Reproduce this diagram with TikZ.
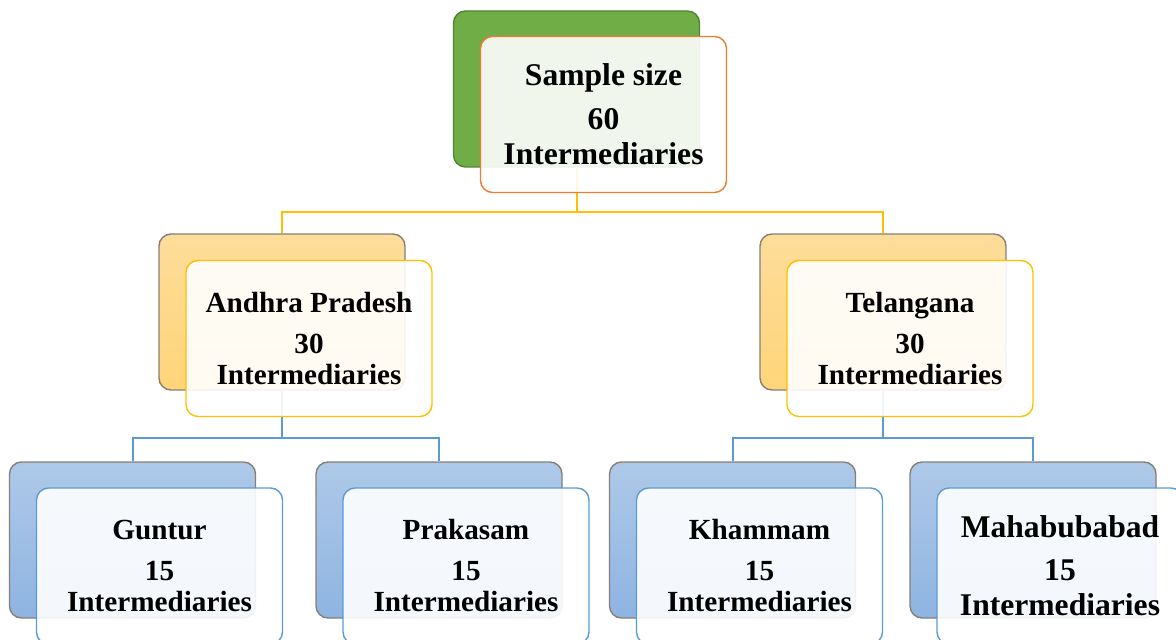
\documentclass[tikz,border=0pt]{standalone}
\usepackage{fontspec}
\setmainfont{Liberation Serif}
\usetikzlibrary{calc}

\definecolor{leafgreen}{HTML}{70AD47}
\definecolor{leafdark}{HTML}{548235}
\definecolor{rimorange}{HTML}{ED7D31}
\definecolor{goldline}{HTML}{FFC000}
\definecolor{goldtop}{HTML}{FDDD9A}
\definecolor{goldbot}{HTML}{FFD47A}
\definecolor{skyline}{HTML}{5B9BD5}
\definecolor{skytop}{HTML}{AEC9E8}
\definecolor{skybot}{HTML}{8EB4E2}
\definecolor{rimgray}{HTML}{857F77}

\begin{document}
\begin{tikzpicture}[x=0.5pt,y=-0.5pt]
        \tikzset{backbox/.style={rounded corners=6pt, minimum width=123pt, minimum height=78pt, line width=0.7pt, draw=rimgray},
                 frontbox/.style={rounded corners=6pt, minimum width=123pt, minimum height=78pt, line width=0.7pt, inner sep=0pt,
                     fill=white, fill opacity=0.9, text opacity=1, align=center,
                     font=\bfseries\fontsize{14.6}{15.5}\selectfont},
                 bigtext/.style={font=\bfseries\fontsize{15.8}{17.5}\selectfont},
                 yline/.style={draw=goldline, line width=1pt},
                 bline/.style={draw=skyline, line width=1pt}}
        \useasboundingbox (0,0) rectangle (1176,640);
        
        % back boxes
        \node[backbox, fill=leafgreen, draw=leafdark] (sampleback) at (576.5,89) {};
        \node[backbox, top color=goldtop, bottom color=goldbot] (apback) at (282,312) {};
        \node[backbox, top color=goldtop, bottom color=goldbot] (tgback) at (883,312) {};
        \node[backbox, top color=skytop, bottom color=skybot] (guntback) at (132.5,540) {};
        \node[backbox, top color=skytop, bottom color=skybot] (prakback) at (439,540) {};
        \node[backbox, top color=skytop, bottom color=skybot] (khamback) at (732.5,540) {};
        \node[backbox, top color=skytop, bottom color=skybot] (mahaback) at (1033,540) {};
        
        % connectors
        \draw[yline] (sampleback.south) -- ++(0,44) coordinate (ysplit);
        \draw[yline] (ysplit) -| (apback.north);
        \draw[yline] (ysplit) -| (tgback.north);
        \draw[bline] (apback.south) -- ++(0,47) coordinate (apsplit);
        \draw[bline] (apsplit) -| (guntback.north);
        \draw[bline] (apsplit) -| (prakback.north);
        \draw[bline] (tgback.south) -- ++(0,47) coordinate (tgsplit);
        \draw[bline] (tgsplit) -| (khamback.north);
        \draw[bline] (tgsplit) -| (mahaback.north);
        
        % front boxes
        \node[frontbox, bigtext, draw=rimorange] (sample) at (603.5,114.5) {Sample size\\[4.5pt]60\\Intermediaries};
        \node[frontbox, draw=goldline] (ap) at (309,338.5) {Andhra Pradesh\\[5pt]30\\Intermediaries};
        \node[frontbox, draw=goldline] (tg) at (910,338.5) {Telangana\\[5pt]30\\Intermediaries};
        \node[frontbox, draw=skyline] (gunt) at (159.5,566) {Guntur\\[5pt]15\\Intermediaries};
        \node[frontbox, draw=skyline] (prak) at (466,566) {Prakasam\\[5pt]15\\Intermediaries};
        \node[frontbox, draw=skyline] (kham) at (759.5,566) {Khammam\\[5pt]15\\Intermediaries};
        \node[frontbox, bigtext, draw=skyline] (maha) at (1060,566) {Mahabubabad\\[4pt]15\\Intermediaries};
\end{tikzpicture}
\end{document}
